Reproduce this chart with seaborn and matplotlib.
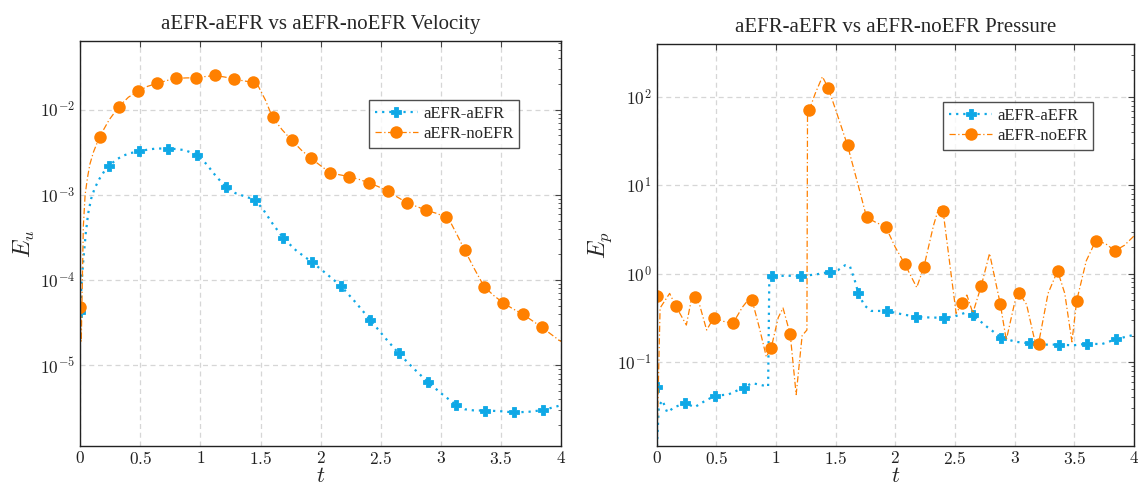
import numpy as np
import pandas as pd
import matplotlib
matplotlib.use("Agg")
import matplotlib.pyplot as plt
from matplotlib.ticker import FuncFormatter, LogLocator, FixedLocator, NullFormatter
import seaborn as sns

# ---------------- data ----------------
series_names = ["aEFR-aEFR", "aEFR-noEFR"]

# Velocity (left)
vel_t_a = [0, 0.01, 0.025, 0.045, 0.065, 0.09, 0.12, 0.16, 0.2, 0.24, 0.3, 0.36, 0.42, 0.49,
           0.56, 0.63, 0.73, 0.8, 0.87, 0.97, 1.05, 1.13, 1.21, 1.29, 1.37, 1.45, 1.52, 1.6,
           1.69, 1.8, 1.93, 2.05, 2.17, 2.29, 2.41, 2.53, 2.65, 2.77, 2.89, 3.01, 3.13, 3.2,
           3.28, 3.37, 3.49, 3.61, 3.73, 3.85, 3.93, 4.0]
vel_a = [4.2e-5, 9e-5, 1.7e-4, 3.5e-4, 6e-4, 9e-4, 1.2e-3, 1.55e-3, 1.9e-3, 2.2e-3, 2.6e-3,
         2.9e-3, 3.1e-3, 3.24e-3, 3.4e-3, 3.5e-3, 3.5e-3, 3.45e-3, 3.35e-3, 2.96e-3, 2.3e-3,
         1.65e-3, 1.25e-3, 1.05e-3, 9.6e-4, 8.8e-4, 6.8e-4, 4.6e-4, 3.1e-4, 2.2e-4, 1.62e-4,
         1.18e-4, 8.5e-5, 5.5e-5, 3.45e-5, 2.15e-5, 1.38e-5, 9.3e-6, 6.4e-6, 4.6e-6, 3.4e-6,
         3.05e-6, 2.95e-6, 2.95e-6, 2.9e-6, 2.8e-6, 2.85e-6, 2.98e-6, 3.2e-6, 3.4e-6]

vel_t_n = [0, 0.008, 0.025, 0.04, 0.06, 0.08, 0.11, 0.16, 0.24, 0.32, 0.4, 0.48, 0.56, 0.64,
           0.72, 0.80, 0.88, 0.96, 1.04, 1.12, 1.2, 1.28, 1.36, 1.44, 1.48, 1.54, 1.60, 1.68,
           1.76, 1.84, 1.92, 2.0, 2.08, 2.16, 2.24, 2.32, 2.40, 2.48, 2.56, 2.64, 2.72, 2.80,
           2.88, 2.96, 3.04, 3.08, 3.14, 3.20, 3.28, 3.36, 3.44, 3.52, 3.60, 3.68, 3.76, 3.84,
           3.92, 4.0]
vel_n = [4.9e-5, 1.9e-5, 4.2e-4, 1.0e-3, 1.6e-3, 2.3e-3, 3.2e-3, 4.8e-3, 7.6e-3, 1.08e-2,
         1.4e-2, 1.65e-2, 1.88e-2, 2.04e-2, 2.2e-2, 2.33e-2, 2.36e-2, 2.37e-2, 2.45e-2, 2.52e-2,
         2.42e-2, 2.29e-2, 2.18e-2, 2.09e-2, 1.9e-2, 1.3e-2, 8.1e-3, 5.8e-3, 4.37e-3, 3.35e-3,
         2.68e-3, 2.2e-3, 1.82e-3, 1.72e-3, 1.64e-3, 1.52e-3, 1.39e-3, 1.25e-3, 1.1e-3, 9.4e-4,
         8.05e-4, 7.3e-4, 6.6e-4, 6.1e-4, 5.5e-4, 4.8e-4, 3.3e-4, 2.23e-4, 1.35e-4, 8.4e-5,
         6.6e-5, 5.4e-5, 4.6e-5, 4.0e-5, 3.35e-5, 2.8e-5, 2.3e-5, 1.9e-5]

# Pressure (right)
pres_t_a = [0, 0.004, 0.02, 0.05, 0.09, 0.15, 0.24, 0.32, 0.4, 0.49, 0.6, 0.73, 0.8, 0.88,
            0.935, 0.945, 0.97, 1.1, 1.21, 1.33, 1.45, 1.52, 1.58, 1.62, 1.66, 1.69, 1.74,
            1.8, 1.93, 2.05, 2.17, 2.29, 2.41, 2.5, 2.58, 2.65, 2.77, 2.89, 3.01, 3.13, 3.25,
            3.37, 3.49, 3.61, 3.73, 3.85, 4.0]
pres_a = [0.052, 0.0115, 0.032, 0.037, 0.027, 0.031, 0.0343, 0.031, 0.036, 0.0418, 0.043,
          0.0515, 0.058, 0.055, 0.053, 0.9, 0.944, 0.95, 0.944, 0.98, 1.05, 1.1, 1.25, 1.22,
          0.85, 0.61, 0.44, 0.38, 0.38, 0.35, 0.327, 0.32, 0.318, 0.33, 0.36, 0.342, 0.25,
          0.189, 0.17, 0.163, 0.158, 0.158, 0.155, 0.162, 0.16, 0.182, 0.204]

pres_t_n = [0, 0.004, 0.03, 0.11, 0.16, 0.25, 0.30, 0.32, 0.36, 0.42, 0.48, 0.56, 0.64, 0.72,
            0.78, 0.80, 0.86, 0.92, 0.96, 1.02, 1.06, 1.12, 1.17, 1.22, 1.26, 1.265, 1.28,
            1.33, 1.39, 1.44, 1.52, 1.60, 1.70, 1.76, 1.84, 1.92, 2.0, 2.08, 2.18, 2.24, 2.32,
            2.37, 2.40, 2.46, 2.51, 2.56, 2.60, 2.65, 2.72, 2.79, 2.88, 2.93, 3.02, 3.04, 3.10,
            3.18, 3.20, 3.28, 3.36, 3.42, 3.48, 3.52, 3.60, 3.68, 3.76, 3.84, 3.92, 4.0]
pres_n = [0.561, 0.0115, 0.41, 0.6, 0.436, 0.263, 0.58, 0.55, 0.45, 0.231, 0.318, 0.29, 0.275,
          0.42, 0.53, 0.506, 0.25, 0.115, 0.1435, 0.32, 0.41, 0.207, 0.043, 0.2, 0.231, 62.5,
          71.3, 110, 170, 125, 60, 28.4, 8.9, 4.35, 3.8, 3.41, 2.0, 1.29, 0.70, 1.2, 3.5, 5.9,
          5.18, 1.2, 0.357, 0.463, 0.575, 0.36, 0.727, 1.7, 0.455, 0.178, 0.62, 0.60, 0.45,
          0.15, 0.161, 0.6, 1.08, 0.6, 0.17, 0.497, 1.4, 2.37, 2.2, 1.82, 2.1, 2.68]

# times at which markers are drawn
mark_t_a = [0, 0.24, 0.49, 0.73, 0.97, 1.21, 1.45, 1.69, 1.93, 2.17, 2.41, 2.65, 2.89, 3.13,
            3.37, 3.61, 3.85]
mark_t_p_a = [0, 0.24, 0.49, 0.73, 0.97, 1.21, 1.45, 1.69, 1.93, 2.17, 2.41, 2.65, 2.89, 3.13,
              3.37, 3.61, 3.85]
mark_t_n = [0, 0.16, 0.32, 0.48, 0.64, 0.80, 0.96, 1.12, 1.28, 1.44, 1.60, 1.76, 1.92, 2.08,
            2.24, 2.40, 2.56, 2.72, 2.88, 3.04, 3.20, 3.36, 3.52, 3.68, 3.84]

titles = ["aEFR-aEFR vs aEFR-noEFR Velocity", "aEFR-aEFR vs aEFR-noEFR Pressure"]
ylabels = [r"$E_u$", r"$E_p$"]
xticks = [0, 0.5, 1, 1.5, 2, 2.5, 3, 3.5, 4]

# ---------------- style ----------------
sns.set_theme(style="white")
plt.rcParams["font.family"] = ["Liberation Serif", "DejaVu Serif"]
plt.rcParams["mathtext.fontset"] = "cm"

C_CYAN = "#0fa8e6"
C_ORANGE = "#ff8000"

fig = plt.figure(figsize=(11.38, 4.88), dpi=100)
W, H = 1138, 488
ax1 = fig.add_axes([80.3 / W, (H - 445.7) / H, (561 - 80.3) / W, (445.7 - 41) / H])
ax2 = fig.add_axes([656.5 / W, (H - 445.7) / H, (1134 - 656.5) / W, (445.7 - 44) / H])


def mark_idx(t, mt):
    t = np.asarray(t)
    return [int(np.argmin(np.abs(t - m))) for m in mt]


def draw(ax, ta, ya, tn, yn, ma, mn, ylim, title, ylabel, yticks):
    da = pd.DataFrame({"t": ta, "E": ya})
    dn = pd.DataFrame({"t": tn, "E": yn})
    sns.lineplot(data=da, x="t", y="E", ax=ax, color=C_CYAN, lw=1.6,
                 linestyle=(0, (1, 2.2)), marker="P", markersize=6.5, markeredgewidth=0.6,
                 markeredgecolor=C_CYAN, markevery=mark_idx(ta, ma), estimator=None,
                 sort=False, label=series_names[0])
    sns.lineplot(data=dn, x="t", y="E", ax=ax, color=C_ORANGE, lw=0.9,
                 linestyle=(0, (5, 2, 1, 2)), marker="o", markersize=9, markeredgewidth=0,
                 markevery=mark_idx(tn, mn), estimator=None, sort=False,
                 label=series_names[1])
    ax.set_yscale("log")
    ax.set_xlim(0, 4)
    ax.set_ylim(*ylim)
    ax.xaxis.set_major_locator(FixedLocator(xticks))
    ax.xaxis.set_major_formatter(FuncFormatter(lambda v, p: r"$%g$" % v))
    ax.yaxis.set_major_locator(FixedLocator(yticks))
    ax.yaxis.set_major_formatter(FuncFormatter(lambda v, p: r"$10^{%d}$" % round(np.log10(v))))
    ax.yaxis.set_minor_locator(LogLocator(base=10, subs=np.arange(2, 10), numticks=20))
    ax.yaxis.set_minor_formatter(NullFormatter())
    ax.tick_params(axis="both", which="both", direction="in", top=True, right=True,
                   colors="#444444", labelcolor="#222222", labelsize=12.5)
    ax.tick_params(axis="both", which="major", length=4, width=0.8)
    ax.tick_params(axis="y", which="minor", length=2.5, width=0.6)
    ax.tick_params(axis="x", which="both", pad=4)
    ax.grid(True, which="major", color="#d6d6d6", linestyle=(0, (4, 3)), linewidth=0.9)
    for s in ax.spines.values():
        s.set_color("#222222")
        s.set_linewidth(1.0)
    ax.set_title(title, fontsize=15, pad=9)
    ax.set_xlabel(r"$t$", fontsize=16, labelpad=0)
    ax.set_ylabel(ylabel, fontsize=17, labelpad=2)
    leg = ax.legend(loc="upper left", bbox_to_anchor=(0.60, 0.855), borderaxespad=0,
                    fancybox=False, frameon=True, fontsize=12, handlelength=2.6,
                    handletextpad=0.3, borderpad=0.35, labelspacing=0.25)
    leg.get_frame().set_edgecolor("#222222")
    leg.get_frame().set_linewidth(1.0)


draw(ax1, vel_t_a, vel_a, vel_t_n, vel_n, mark_t_a, mark_t_n, (1.14e-6, 0.064),
     titles[0], ylabels[0], [1e-5, 1e-4, 1e-3, 1e-2])
draw(ax2, pres_t_a, pres_a, pres_t_n, pres_n, mark_t_p_a, mark_t_n, (0.01135, 398),
     titles[1], ylabels[1], [1e-1, 1e0, 1e1, 1e2])

fig.savefig("out.png", dpi=100)
